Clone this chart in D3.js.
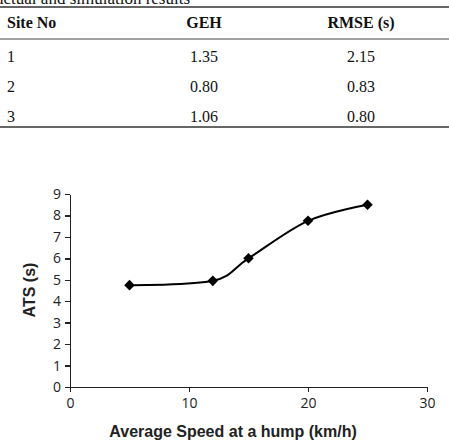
<!DOCTYPE html>
<html>
  <head>
    <meta charset="utf-8">
    <style>
      body { margin: 0; background: #fff; }
      svg { display: block; }
      .tbl { font-family: "Liberation Serif", "Times New Roman", serif; font-size: 16px; fill: #111; }
      .hdr { font-weight: bold; }
      .axis text { font-family: "Open Sans", "Liberation Sans", sans-serif; font-size: 14px; fill: #222; }
      .axis path, .axis line { stroke: #222; stroke-width: 1.4px; shape-rendering: crispEdges; }
      .title { font-family: "Liberation Sans", Arial, sans-serif; font-weight: bold; font-size: 16px; fill: #222; }
    </style>
  </head>
  <body>
    <script src="https://d3js.org/d3.v7.min.js"></script>
    <script>
      // table
      var headers = ["Site No", "GEH", "RMSE (s)"];
      var siteNo = ["1", "2", "3"];
      var geh = ["1.35", "0.80", "1.06"];
      var rmse = ["2.15", "0.83", "0.80"];

      // chart
      var speed = [5, 12, 15, 20, 25];
      var ats = [4.75, 4.95, 6.0, 7.75, 8.5];
      var xTicks = [0, 10, 20, 30];
      var yTicks = [0, 1, 2, 3, 4, 5, 6, 7, 8, 9];

      var svg = d3.select("body").append("svg")
        .attr("width", 449)
        .attr("height", 444);

      // caption, cut off at the top like the reference
      svg.append("text")
        .attr("class", "tbl")
        .attr("x", -4)
        .attr("y", 4)
        .style("font-size", "17px")
        .text("actual and simulation results");

      var colX = [7, 204, 361];
      var rowY = [62, 92, 122];

      svg.append("line").attr("x1", 0).attr("x2", 449).attr("y1", 7).attr("y2", 7)
        .attr("stroke", "#333").attr("stroke-width", 1.5);
      svg.append("line").attr("x1", 0).attr("x2", 449).attr("y1", 39).attr("y2", 39)
        .attr("stroke", "#444").attr("stroke-width", 1);
      svg.append("line").attr("x1", 0).attr("x2", 449).attr("y1", 127).attr("y2", 127)
        .attr("stroke", "#666").attr("stroke-width", 2);

      svg.selectAll("text.hdr")
        .data(headers)
        .enter()
        .append("text")
          .attr("class", "tbl hdr")
          .attr("x", function(d, i) { return colX[i]; })
          .attr("y", 28)
          .attr("text-anchor", function(d, i) { return i == 0 ? "start" : "middle"; })
          .text(function(d) { return d; });

      var rows = siteNo.map(function(s, i) { return [s, geh[i], rmse[i]]; });
      rows.forEach(function(r, j) {
        r.forEach(function(v, i) {
          svg.append("text")
            .attr("class", "tbl")
            .attr("x", colX[i])
            .attr("y", rowY[j])
            .attr("text-anchor", i == 0 ? "start" : "middle")
            .text(v);
        });
      });

      // chart area
      var x = d3.scaleLinear().domain([0, 30]).range([70, 427]);
      var y = d3.scaleLinear().domain([0, 9]).range([387, 194]);

      svg.append("g")
        .attr("class", "axis")
        .attr("transform", "translate(0,387)")
        .call(d3.axisBottom(x).tickValues(xTicks).tickSizeOuter(0).tickSizeInner(5).tickPadding(6));

      svg.append("g")
        .attr("class", "axis")
        .attr("transform", "translate(70,0)")
        .call(d3.axisLeft(y).tickValues(yTicks).tickSizeOuter(0).tickSizeInner(5).tickPadding(4));

      var line = d3.line()
        .x(function(d, i) { return x(speed[i]); })
        .y(function(d) { return y(d); })
        .curve(d3.curveCatmullRom.alpha(0));

      svg.append("path")
        .datum(ats)
        .attr("d", line)
        .attr("fill", "none")
        .attr("stroke", "#000")
        .attr("stroke-width", 2);

      svg.selectAll("path.mark")
        .data(ats)
        .enter()
        .append("path")
          .attr("class", "mark")
          .attr("d", d3.symbol().type(d3.symbolSquare).size(56))
          .attr("transform", function(d, i) { return "translate(" + x(speed[i]) + "," + y(d) + ") rotate(45)"; })
          .attr("fill", "#000");

      svg.append("text")
        .attr("class", "title")
        .attr("x", 233)
        .attr("y", 437)
        .attr("text-anchor", "middle")
        .text("Average Speed at a hump (km/h)");

      svg.append("text")
        .attr("class", "title")
        .attr("transform", "translate(35,290) rotate(-90)")
        .attr("text-anchor", "middle")
        .text("ATS (s)");
    </script>
  </body>
</html>
